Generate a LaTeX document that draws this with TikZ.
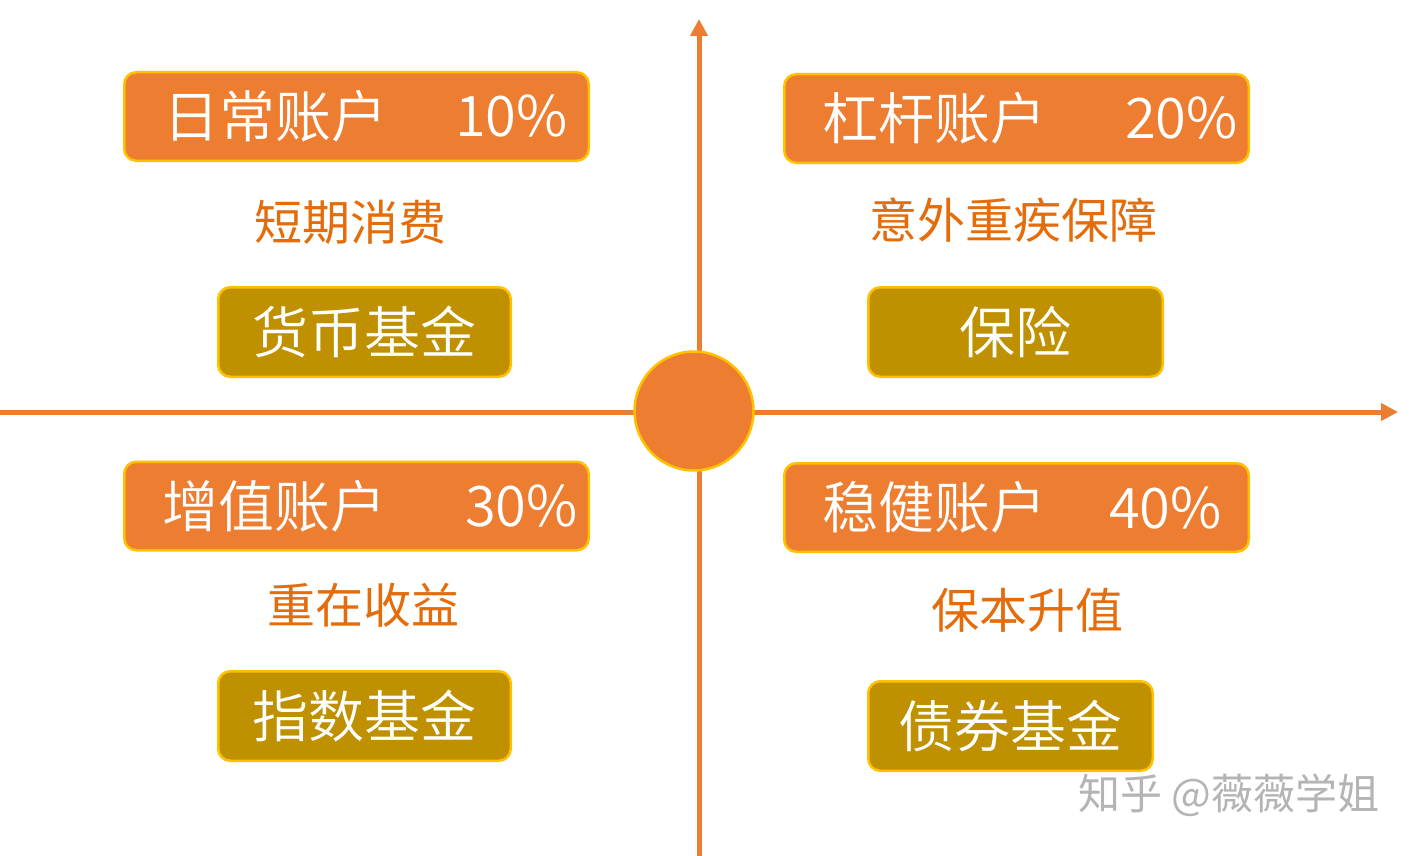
\documentclass[tikz,border=0pt]{standalone}
\usepackage{fontspec}
\setmainfont{Noto Sans CJK SC DemiLight}
\newfontfamily\notefont{Noto Sans CJK SC}
\usetikzlibrary{
	arrows.meta,
	positioning
}
\definecolor{acctorange}{HTML}{ED7D31}
\definecolor{rimyellow}{HTML}{FFC000}
\definecolor{fundolive}{HTML}{BF9000}
\definecolor{noteorange}{HTML}{E46C0A}
\definecolor{markgray}{HTML}{B4B4B4}

\begin{document}
\begin{tikzpicture}[x=1pt,y=-1pt,>={Triangle[length=17pt,width=17pt]},
        acct node/.style={draw=rimyellow,line width=2.5pt,fill=acctorange,
        rounded corners=12pt,minimum width=464.5pt,minimum height=88.5pt,inner sep=0pt},
        fund node/.style={draw=rimyellow,line width=2.5pt,fill=fundolive,
        rounded corners=12pt,minimum height=89.5pt,inner sep=0pt},
        box text/.style={text=white,font=\fontsize{56}{60}\selectfont,inner sep=0pt},
        note/.style={text=noteorange,font=\notefont\fontsize{48}{52}\selectfont,inner sep=0pt},
        axis/.style={->,draw=acctorange,line width=5pt}]
        \useasboundingbox (0,0) rectangle (1418,856);

        % axes
        \coordinate (xl) at (0,412);
        \coordinate (xr) at (1398,412);
        \coordinate (yb) at (699,856);
        \coordinate (yt) at (699,19);
        \draw[axis] (xl) -- (xr);
        \draw[axis] (yb) -- (yt);
        \node[draw=rimyellow,line width=2.5pt,fill=acctorange,circle,
              minimum size=119pt,inner sep=0pt] (hub) at (694,411) {};

        % top left
        \node[acct node] (daily) at (356.5,116.5) {};
        \node[box text,anchor=west] (daily name) at ([xshift=40pt]daily.west) {日常账户};
        \node[box text,anchor=east] (daily pct) at ([xshift=-22pt]daily.east) {10\%};
        \node[note] (daily note) at (350,222) {短期消费};
        \node[fund node,minimum width=292.5pt] (money) at (364.5,332) {};
        \node[box text] at (money) {货币基金};

        % top right
        \node[acct node] (lever) at (1016.5,118.5) {};
        \node[box text,anchor=west] (lever name) at ([xshift=39pt]lever.west) {杠杆账户};
        \node[box text,anchor=east] (lever pct) at ([xshift=-12pt]lever.east) {20\%};
        \node[note] (lever note) at (1013,220) {意外重疾保障};
        \node[fund node,minimum width=294.5pt] (insure) at (1015.5,332) {};
        \node[box text] at (insure) {保险};

        % bottom left
        \node[acct node] (growth) at (356.5,506) {};
        \node[box text,anchor=west] (growth name) at ([xshift=39pt]growth.west) {增值账户};
        \node[box text,anchor=east] (growth pct) at ([xshift=-12pt]growth.east) {30\%};
        \node[note] (growth note) at (363,605) {重在收益};
        \node[fund node,minimum width=292.5pt] (index) at (364.5,716) {};
        \node[box text] at (index) {指数基金};

        % bottom right
        \node[acct node] (steady) at (1016.5,507.5) {};
        \node[box text,anchor=west] (steady name) at ([xshift=39pt]steady.west) {稳健账户};
        \node[box text,anchor=east] (steady pct) at ([xshift=-28pt]steady.east) {40\%};
        \node[note] (steady note) at (1027,610) {保本升值};
        \node[fund node,minimum width=284.5pt] (bond) at (1010.5,726) {};
        \node[box text] at (bond) {债券基金};

        % watermark
        \node[text=markgray,font=\notefont\fontsize{42}{46}\selectfont,inner sep=0pt] (zhihu) at (1229,795) {知乎 @薇薇学姐};
\end{tikzpicture}
\end{document}
